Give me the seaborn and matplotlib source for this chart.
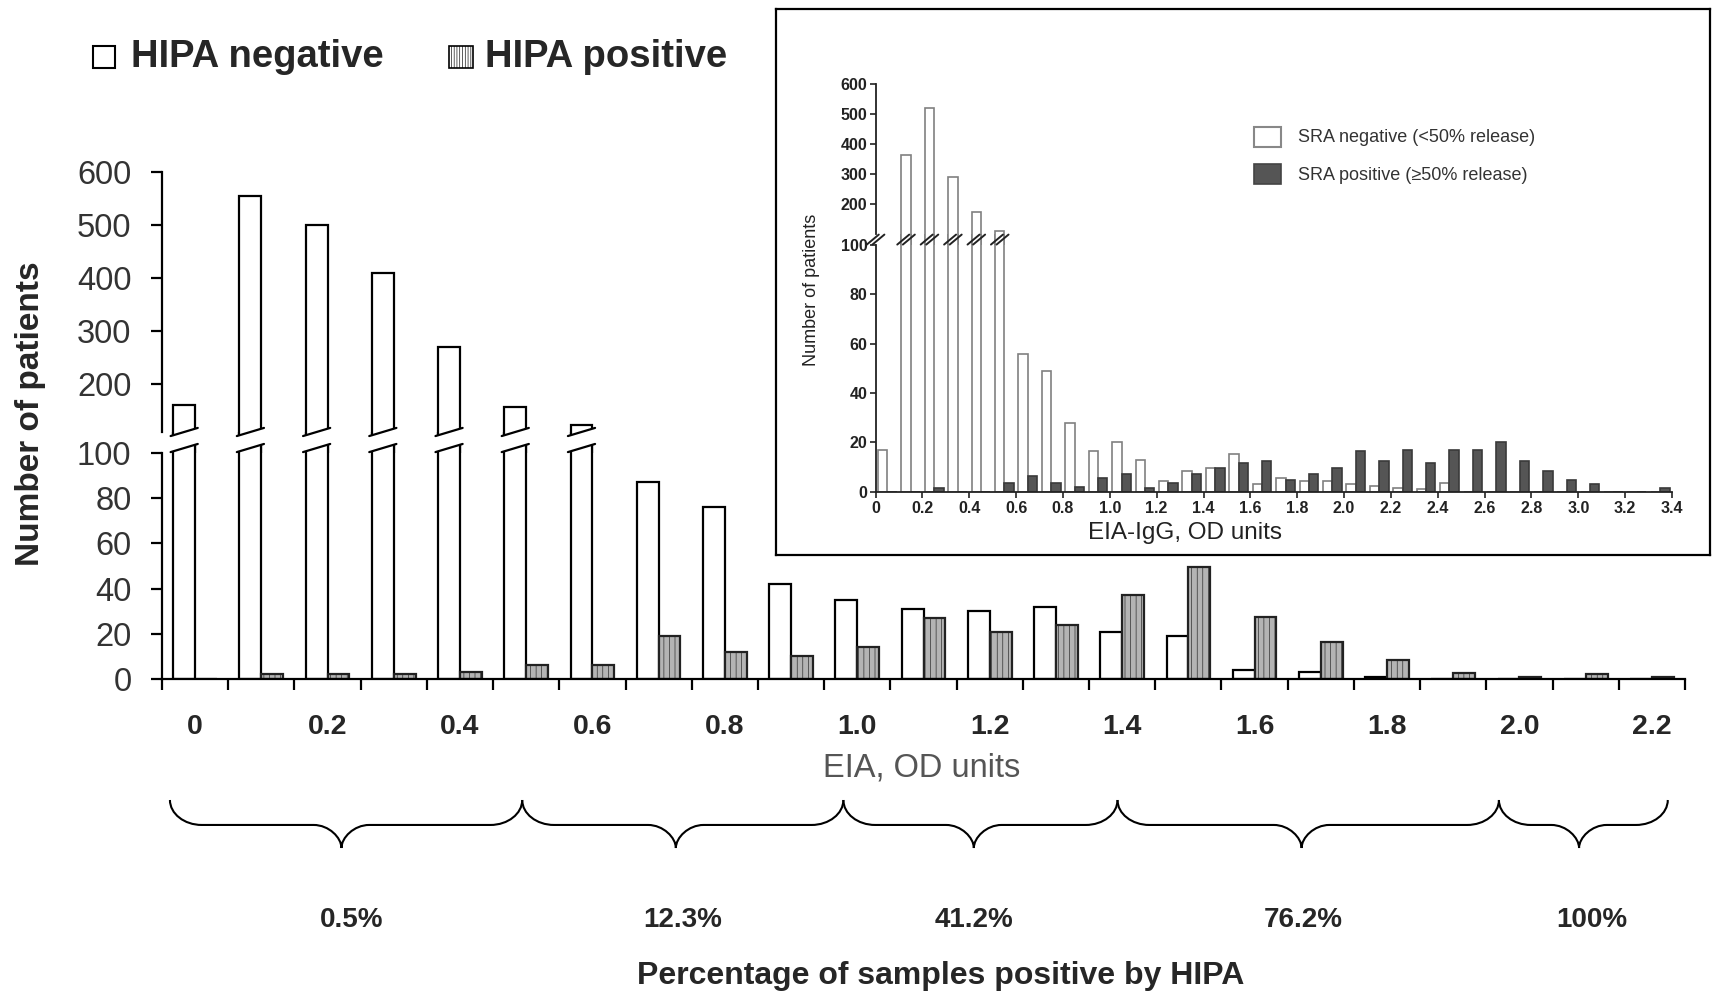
import numpy as np
import pandas as pd
import matplotlib
matplotlib.use("Agg")
import matplotlib.pyplot as plt
from matplotlib.patches import Rectangle, Polygon, PathPatch
from matplotlib.path import Path
from matplotlib.lines import Line2D
from matplotlib.transforms import IdentityTransform
import seaborn as sns

# ---------------- data ----------------
main_bins = ['0.0', '0.1', '0.2', '0.3', '0.4', '0.5', '0.6', '0.7', '0.8', '0.9', '1.0', '1.1',
             '1.2', '1.3', '1.4', '1.5', '1.6', '1.7', '1.8', '1.9', '2.0', '2.1', '2.2']
main_neg = [160, 555, 500, 410, 270, 157, 123, 87, 76, 42, 35, 31,
            30, 32, 21, 19, 4, 3, 0.7, 0, 0, 0, 0]
main_pos = [0, 2, 2, 2, 3, 6, 6, 19, 12, 10, 14, 27,
            21, 24, 37, 49.5, 27.6, 16.2, 8.4, 2.8, 0.7, 2, 0.7]
main_groups = ['HIPA negative', 'HIPA positive']
main_xticklabels = ['0', '0.2', '0.4', '0.6', '0.8', '1.0', '1.2', '1.4', '1.6', '1.8', '2.0', '2.2']
main_lo_yticks = [0, 20, 40, 60, 80, 100]
main_up_yticks = [200, 300, 400, 500, 600]

brace_edges = [-0.38, 4.94, 9.79, 13.93, 19.69, 22.24]
brace_tips = [2.21, 7.26, 11.76, 16.71, 20.90]
pct_labels = ['0.5%', '12.3%', '41.2%', '76.2%', '100%']
pct_label_x = [2.36, 7.36, 11.76, 16.73, 21.10]

inset_bins = ['0.0', '0.1', '0.2', '0.3', '0.4', '0.5', '0.6', '0.7', '0.8', '0.9', '1.0', '1.1',
              '1.2', '1.3', '1.4', '1.5', '1.6', '1.7', '1.8', '1.9', '2.0', '2.1', '2.2', '2.3',
              '2.4', '2.5', '2.6', '2.7', '2.8', '2.9', '3.0', '3.1', '3.2', '3.3']
inset_neg = [17, 365, 520, 292, 175, 110, 56, 49, 28, 16.5, 20, 13,
             4.5, 8.4, 9.5, 15.2, 3.2, 5.4, 4.4, 4.4, 2.9, 2.2, 1.5, 1.2,
             3.3, 0, 0, 0, 0, 0, 0, 0, 0, 0]
inset_pos = [0, 0, 1.4, 0, 0, 3.3, 6.5, 3.6, 1.9, 5.5, 7.2, 1.3,
             3.3, 7.2, 9.4, 11.6, 12.3, 4.6, 7.2, 9.4, 16.4, 12.3, 16.7, 11.6,
             16.7, 16.7, 20, 12.3, 8.4, 4.6, 3.2, 0, 0, 1.3]
inset_groups = ['SRA negative (<50% release)', 'SRA positive (\u226550% release)']
inset_xticklabels = ['0', '0.2', '0.4', '0.6', '0.8', '1.0', '1.2', '1.4', '1.6', '1.8',
                     '2.0', '2.2', '2.4', '2.6', '2.8', '3.0', '3.2', '3.4']
inset_lo_yticks = [0, 20, 40, 60, 80, 100]
inset_up_yticks = [200, 300, 400, 500, 600]

# ---------------- style ----------------
sns.set_theme(style="white")
plt.rcParams['font.family'] = ['Liberation Sans', 'DejaVu Sans']
plt.rcParams['hatch.linewidth'] = 0.45

W_PX, H_PX = 1717, 994
fig = plt.figure(figsize=(W_PX / 100, H_PX / 100), dpi=100)


def fx(px):
    return px / W_PX


def fy(py):
    return 1 - py / H_PX


main_df = pd.DataFrame({
    'od': main_bins * 2,
    'group': [main_groups[0]] * len(main_bins) + [main_groups[1]] * len(main_bins),
    'count': main_neg + main_pos,
})
inset_df = pd.DataFrame({
    'od': inset_bins * 2,
    'group': [inset_groups[0]] * len(inset_bins) + [inset_groups[1]] * len(inset_bins),
    'count': inset_neg + inset_pos,
})

# main axes (upper first so lower is drawn on top)
L, R = 162, 1685
ax_up = fig.add_axes([fx(L), fy(432), fx(R) - fx(L), (432 - 172) / H_PX])
ax_lo = fig.add_axes([fx(L), fy(679), fx(R) - fx(L), (679 - 453) / H_PX])

main_pal = {main_groups[0]: 'white', main_groups[1]: '#b4b4b4'}
for ax in (ax_up, ax_lo):
    sns.barplot(data=main_df, x='od', y='count', hue='group', order=main_bins,
                hue_order=main_groups, palette=main_pal, saturation=1, width=0.66,
                edgecolor='black', linewidth=1.6, errorbar=None, legend=False, ax=ax)
    for p in ax.containers[1]:
        p.set_hatch('|||')
        p.set_edgecolor('#222222')
    ax.set_facecolor('none')
    ax.set_xlim(-0.5, len(main_bins) - 0.5)
    ax.set_xlabel('')
    ax.set_ylabel('')
    for s in ('top', 'right'):
        ax.spines[s].set_visible(False)
    ax.spines['left'].set_linewidth(1.6)
    ax.spines['left'].set_color('black')
    ax.tick_params(axis='y', which='major', left=True, length=8, width=1.6, direction='out',
                   pad=14, labelsize=23.5, labelcolor='#333333', color='black')

ax_up.set_ylim(110, 600)
ax_up.set_yticks(main_up_yticks)
ax_up.spines['bottom'].set_visible(False)
ax_up.tick_params(axis='x', which='both', bottom=False, labelbottom=False)

ax_lo.set_ylim(0, 100)
ax_lo.set_yticks(main_lo_yticks)
ax_lo.spines['bottom'].set_linewidth(1.6)
ax_lo.spines['bottom'].set_color('black')
ax_lo.set_xticks(np.arange(-0.5, len(main_bins), 1.0))
ax_lo.set_xticklabels([])
ax_lo.set_xticks(np.arange(0, len(main_bins), 2), minor=True)
ax_lo.set_xticklabels(main_xticklabels, minor=True, fontweight='bold', fontsize=20.5)
ax_lo.tick_params(axis='x', which='major', bottom=True, length=8, width=1.6, direction='out', color='black')
ax_lo.tick_params(axis='x', which='minor', bottom=True, length=0, pad=25, labelsize=20.5)

# extended clipping so tall bars run into the break gap
clip_lo = Rectangle((0, 0), 1, (679 - 432) / (679 - 453), transform=ax_lo.transAxes)
clip_up = Rectangle((0, -(453 - 432) / (432 - 172)), 1, 1 + (453 - 432) / (432 - 172),
                    transform=ax_up.transAxes)
tall_main = []
for p in ax_lo.containers[0]:
    if p.get_height() > 100:
        p.set_clip_path(clip_lo)
        tall_main.append((p.get_x(), p.get_width()))
for p in ax_up.containers[0]:
    if p.get_height() > 100:
        p.set_clip_path(clip_up)

# break marks on the tall main bars (white gap with two slanted lines)
for (x0, w) in tall_main:
    xl, xr = x0 - 0.04, x0 + w + 0.04
    pts = ax_lo.transData.transform([(xl, 100.4), (xr, 104.0), (xr, 111.1), (xl, 107.5)])
    fig.add_artist(Polygon(pts, closed=True, facecolor='white', edgecolor='none',
                           transform=IdentityTransform(), zorder=5))
    fig.add_artist(Line2D([pts[0][0], pts[1][0]], [pts[0][1], pts[1][1]], color='black',
                          lw=1.6, transform=IdentityTransform(), zorder=6))
    fig.add_artist(Line2D([pts[3][0], pts[2][0]], [pts[3][1], pts[2][1]], color='black',
                          lw=1.6, transform=IdentityTransform(), zorder=6))

# braces
ax_br = fig.add_axes([fx(L), fy(848), fx(R) - fx(L), 48 / H_PX])
ax_br.set_xlim(-0.5, len(main_bins) - 0.5)
ax_br.set_ylim(0, 1)
ax_br.axis('off')
ym = 0.48
re, rt = 0.48, 0.42
for i in range(len(brace_tips)):
    x0, x1, xt = brace_edges[i], brace_edges[i + 1], brace_tips[i]
    verts = [(x0, 1), (x0, 1 - 0.55 * (1 - ym)), (x0 + 0.45 * re, ym), (x0 + re, ym),
             (xt - rt, ym),
             (xt - 0.45 * rt, ym), (xt, ym * 0.45), (xt, 0),
             (xt, ym * 0.45), (xt + 0.45 * rt, ym), (xt + rt, ym),
             (x1 - re, ym),
             (x1 - 0.45 * re, ym), (x1, 1 - 0.55 * (1 - ym)), (x1, 1)]
    codes = [Path.MOVETO, Path.CURVE4, Path.CURVE4, Path.CURVE4, Path.LINETO,
             Path.CURVE4, Path.CURVE4, Path.CURVE4, Path.CURVE4, Path.CURVE4, Path.CURVE4,
             Path.LINETO, Path.CURVE4, Path.CURVE4, Path.CURVE4]
    ax_br.add_patch(PathPatch(Path(verts, codes), facecolor='none', edgecolor='black',
                              lw=1.5, clip_on=False))
    ax_br.text(pct_label_x[i], -1.5, pct_labels[i], ha='center', va='center', fontsize=20,
               fontweight='bold', clip_on=False)

# main texts
fig.text(fx(31), fy(414), 'Number of patients', rotation=90, ha='center', va='center',
         fontsize=24, fontweight='bold')
fig.text(fx(922), fy(768), 'EIA, OD units', ha='center', va='center', fontsize=23.5, color='#555555')
fig.text(fx(941), fy(976), 'Percentage of samples positive by HIPA', ha='center', va='center',
         fontsize=23, fontweight='bold')

# main legend
fig.add_artist(Rectangle((fx(93), fy(68)), 22 / W_PX, 22 / H_PX, facecolor='white',
                         edgecolor='black', lw=1.5, transform=fig.transFigure))
fig.text(fx(131), fy(57), main_groups[0], ha='left', va='center', fontsize=27.5, fontweight='bold')
fig.add_artist(Rectangle((fx(449), fy(68)), 24 / W_PX, 22 / H_PX, facecolor='white',
                         edgecolor='black', lw=1.2, hatch='||||||', transform=fig.transFigure))
fig.text(fx(485), fy(57), main_groups[1], ha='left', va='center', fontsize=27.5, fontweight='bold')

# ---------------- inset ----------------
ax_frame = fig.add_axes([fx(776), fy(555), (1710 - 776) / W_PX, (555 - 9) / H_PX], zorder=1)
ax_frame.set_xticks([])
ax_frame.set_yticks([])
ax_frame.set_facecolor('white')
for s in ax_frame.spines.values():
    s.set_visible(True)
    s.set_linewidth(1.6)
    s.set_color('black')

IL, IR = 875.6, 1672
ins_up = fig.add_axes([fx(IL), fy(234), fx(IR) - fx(IL), (234 - 84.3) / H_PX], zorder=2)
ins_lo = fig.add_axes([fx(IL), fy(491.6), fx(IR) - fx(IL), (491.6 - 245) / H_PX], zorder=2)
ins_pal = {inset_groups[0]: 'white', inset_groups[1]: '#555555'}
for ax in (ins_up, ins_lo):
    sns.barplot(data=inset_df, x='od', y='count', hue='group', order=inset_bins,
                hue_order=inset_groups, palette=ins_pal, saturation=1, width=0.8,
                linewidth=1.2, errorbar=None, legend=False, ax=ax)
    for p in ax.containers[0]:
        p.set_edgecolor('#808080')
    for p in ax.containers[1]:
        p.set_edgecolor('#3a3a3a')
    ax.set_facecolor('none')
    ax.set_xlim(-0.5, len(inset_bins) - 0.5)
    ax.set_xlabel('')
    ax.set_ylabel('')
    for s in ('top', 'right'):
        ax.spines[s].set_visible(False)
    ax.spines['left'].set_linewidth(1.3)
    ax.spines['left'].set_color('#222222')
    ax.tick_params(axis='y', left=True, length=4, width=1.2, direction='out', pad=2,
                   labelsize=11.5, labelcolor='#222222', color='#222222')

ins_up.set_ylim(100, 600)
ins_up.set_yticks(inset_up_yticks)
ins_up.set_yticklabels([str(v) for v in inset_up_yticks], fontweight='bold')
ins_up.spines['bottom'].set_visible(False)
ins_up.tick_params(axis='x', bottom=False, labelbottom=False)

ins_lo.set_ylim(0, 100)
ins_lo.set_yticks(inset_lo_yticks)
ins_lo.set_yticklabels([str(v) for v in inset_lo_yticks], fontweight='bold')
ins_lo.spines['bottom'].set_linewidth(1.3)
ins_lo.spines['bottom'].set_color('#222222')
ins_lo.set_xticks(np.arange(-0.5, len(inset_bins), 2.0))
ins_lo.set_xticklabels(inset_xticklabels, fontweight='bold')
ins_lo.tick_params(axis='x', bottom=True, length=4, width=1.2, direction='out', pad=3,
                   labelsize=11.5, labelcolor='#222222', color='#222222')

iclip_lo = Rectangle((0, 0), 1, (491.6 - 234) / (491.6 - 245), transform=ins_lo.transAxes)
iclip_up = Rectangle((0, -(245 - 234) / (234 - 84.3)), 1, 1 + (245 - 234) / (234 - 84.3),
                     transform=ins_up.transAxes)
tall_ins = []
for p in ins_lo.containers[0]:
    if p.get_height() > 100:
        p.set_clip_path(iclip_lo)
        tall_ins.append(p.get_x() + p.get_width() / 2)
for p in ins_up.containers[0]:
    if p.get_height() > 100:
        p.set_clip_path(iclip_up)


def double_slash(ax, x, y):
    cx, cy = ax.transData.transform((x, y))
    for s in (-2.8, 2.8):
        fig.add_artist(Line2D([cx + s - 6, cx + s + 6], [cy - 5, cy + 5], color='#222222',
                              lw=1.4, transform=IdentityTransform(), zorder=6))


double_slash(ins_lo, -0.5, 102.2)
for xc in tall_ins:
    double_slash(ins_lo, xc, 102.2)

# inset legend
fig.add_artist(Rectangle((fx(1254), fy(147)), 27 / W_PX, 20 / H_PX, facecolor='white',
                         edgecolor='#888888', lw=1.5, transform=fig.transFigure, zorder=4))
fig.text(fx(1298), fy(137), inset_groups[0], ha='left', va='center', fontsize=13,
         color='#333333', zorder=4)
fig.add_artist(Rectangle((fx(1254), fy(184)), 27 / W_PX, 20 / H_PX, facecolor='#555555',
                         edgecolor='#444444', lw=1.2, transform=fig.transFigure, zorder=4))
fig.text(fx(1298), fy(175), inset_groups[1], ha='left', va='center', fontsize=13,
         color='#333333', zorder=4)

fig.text(fx(811), fy(290), 'Number of patients', rotation=90, ha='center', va='center',
         fontsize=13, color='#222222', zorder=4)
fig.text(fx(1185), fy(533), 'EIA-IgG, OD units', ha='center', va='center', fontsize=17.5,
         color='#222222', zorder=4)

fig.savefig('out.png', dpi=100, facecolor='white')
